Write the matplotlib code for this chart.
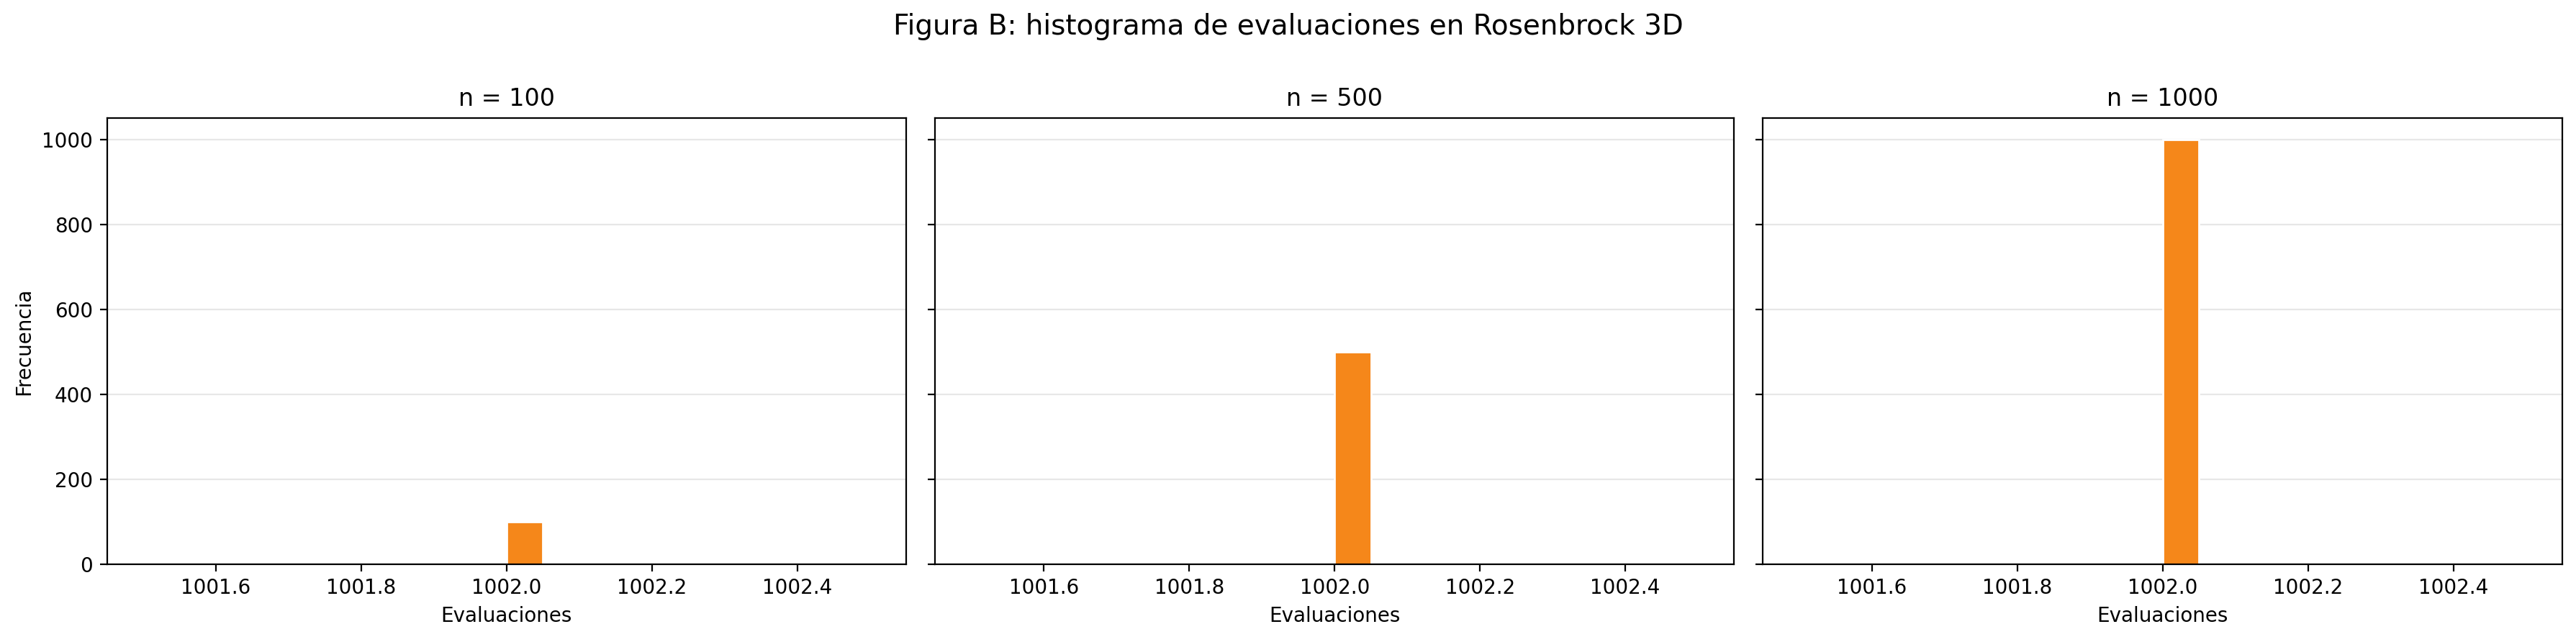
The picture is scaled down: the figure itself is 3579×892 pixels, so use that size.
import numpy as np
import matplotlib
matplotlib.use("Agg")
import matplotlib.pyplot as plt

# sample sizes per panel and the (constant) number of evaluations observed
n_values = [100, 500, 1000]
eval_value = 1002
n_bins = 20

titles = ["n = %d" % n for n in n_values]
bar_color = "#F5871A"

fig, axes = plt.subplots(1, 3, figsize=(17.9, 4.46), dpi=200, sharey=True)
fig.subplots_adjust(left=0.0415, right=0.9944, bottom=0.1214, top=0.8161, wspace=0.036)

for ax, n, title in zip(axes, n_values, titles):
    evals = np.full(n, eval_value)
    ax.hist(evals, bins=n_bins, color=bar_color, edgecolor="white", linewidth=1.0)
    ax.set_title(title, fontsize=12)
    ax.set_xlabel("Evaluaciones")
    ax.grid(axis="y", alpha=0.3)
    ax.set_axisbelow(True)

axes[0].set_ylabel("Frecuencia")
fig.suptitle("Figura B: histograma de evaluaciones en Rosenbrock 3D", fontsize=14,
             y=1 - 48 / 892, va="baseline")

fig.savefig("out.png", dpi=200)
